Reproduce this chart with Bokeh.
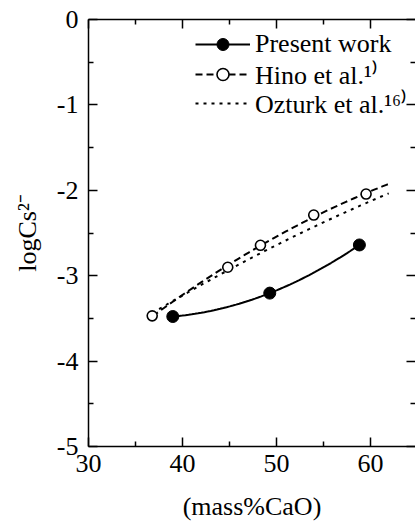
import numpy as np
from bokeh.plotting import figure
from bokeh.models import (Range1d, LinearAxis, Legend, LegendItem, FixedTicker,
                          CustomJSTickFormatter)
from bokeh.embed import file_html
from bokeh.resources import INLINE

# ---- data ----
present_x = [38.97, 49.29, 58.83]
present_y = [-3.478, -3.204, -2.640]
hino_x = [36.78, 44.82, 48.30, 53.97, 59.54]
hino_y = [-3.470, -2.901, -2.644, -2.290, -2.044]
hino_line_end = 62.13
ozturk_x = [36.78, 48.30, 61.95]
ozturk_y = [-3.438, -2.737, -2.036]

x_major = [30, 40, 50, 60]
x_minor = [35, 45, 55, 65]
y_major = [0, -1, -2, -3, -4, -5]
y_minor = [-0.5, -1.5, -2.5, -3.5, -4.5]
x_labels = {30: "30", 40: "40", 50: "50", 60: "60"}
y_labels = {0: "0", -1: "-1", -2: "-2", -3: "-3", -4: "-4", -5: "-5"}

FONT = "Liberation Serif"
FS = "26px"

p = figure(width=415, height=523,
           x_range=Range1d(30, 64.8), y_range=Range1d(-5, 0),
           output_backend="svg", toolbar_location=None,
           min_border_left=88, min_border_right=0,
           min_border_top=19, min_border_bottom=76)
p.grid.visible = False
p.outline_line_color = None
p.background_fill_color = "white"
p.border_fill_color = "white"

def style_axis(ax, labels=True, line=True):
    ax.major_tick_in = 9
    ax.major_tick_out = 0
    ax.minor_tick_in = 5
    ax.minor_tick_out = 0
    ax.major_tick_line_width = 1.5
    ax.minor_tick_line_width = 1.5
    ax.major_tick_line_color = "black"
    ax.minor_tick_line_color = "black"
    ax.axis_line_width = 1.5
    ax.axis_line_color = "black" if line else None
    ax.major_label_text_font = FONT
    ax.major_label_text_color = "black"
    if labels:
        ax.major_label_text_font_size = FS
    else:
        ax.formatter = CustomJSTickFormatter(code="return '';")
        ax.major_label_text_font_size = "1px"
        ax.major_label_standoff = 0

xb = p.below[0]
xb.ticker = FixedTicker(ticks=x_major, minor_ticks=x_minor)
style_axis(xb)
xb.major_label_overrides = x_labels
xb.major_label_standoff = 8
xb.axis_label = "(mass%CaO)"
xb.axis_label_text_font = FONT
xb.axis_label_text_font_size = FS
xb.axis_label_text_font_style = "normal"
xb.axis_label_text_color = "black"
xb.axis_label_standoff = 17

yl = p.left[0]
yl.ticker = FixedTicker(ticks=y_major, minor_ticks=y_minor)
style_axis(yl)
yl.major_label_overrides = y_labels
yl.major_label_standoff = 10
yl.axis_label = "logCs\u00b2\u207b"
yl.axis_label_text_font = FONT
yl.axis_label_text_font_size = FS
yl.axis_label_text_font_style = "normal"
yl.axis_label_text_color = "black"
yl.axis_label_standoff = 12

xt = LinearAxis(ticker=FixedTicker(ticks=x_major, minor_ticks=x_minor))
style_axis(xt, labels=False)
p.add_layout(xt, "above")

yr = LinearAxis(ticker=FixedTicker(ticks=y_major, minor_ticks=y_minor))
style_axis(yr, labels=False, line=False)
p.add_layout(yr, "right")

# ---- curves ----
pc = np.polyfit(present_x, present_y, 2)
px = np.linspace(present_x[0], present_x[-1], 60)
present_line = p.line(px, np.polyval(pc, px), line_color="black", line_width=2)

hc = np.polyfit(hino_x, hino_y, 2)
hx = np.linspace(hino_x[0], hino_line_end, 60)
hino_line = p.line(hx, np.polyval(hc, hx), line_color="black", line_width=2,
                   line_dash="7 4")

oc = np.polyfit(ozturk_x, ozturk_y, 2)
ox = np.linspace(ozturk_x[0], ozturk_x[-1], 60)
ozturk_line = p.line(ox, np.polyval(oc, ox), line_color="black", line_width=2,
                     line_dash="3 5")

present_pts = p.scatter(present_x, present_y, size=12, marker="circle",
                        fill_color="black", line_color="black")
hino_pts = p.scatter(hino_x, hino_y, size=10, marker="circle",
                     fill_color="white", line_color="black", line_width=1.6)

entries = [
    ("Present work", [present_line, present_pts], 387),
    ("Hino et al.\u00b9\u207e", [hino_line, hino_pts], 354),
    ("Ozturk et al.\u00b9\u2076\u207e", [ozturk_line], 325),
]
for label, rends, ypos in entries:
    lg = Legend(items=[LegendItem(label=label, renderers=rends)],
                location=(107, ypos))
    lg.glyph_width = 55
    lg.glyph_height = 30
    lg.label_height = 30
    lg.label_standoff = 5
    lg.spacing = 0
    lg.padding = 0
    lg.margin = 0
    lg.border_line_color = None
    lg.background_fill_alpha = 0
    lg.label_text_font = FONT
    lg.label_text_font_size = FS
    lg.label_text_color = "black"
    p.add_layout(lg)

open("out.html", "w").write(file_html(p, INLINE))
